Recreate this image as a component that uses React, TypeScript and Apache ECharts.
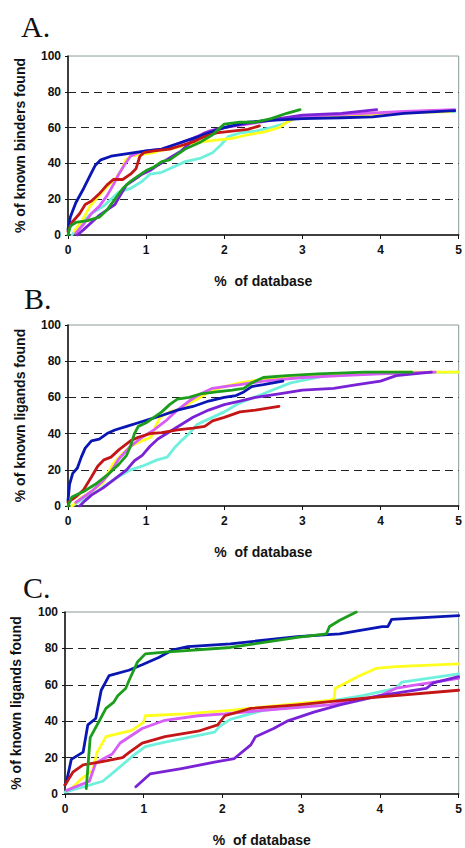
import React, { useEffect, useRef } from "react";
import * as echarts from "echarts";

const xTicks = [0, 1, 2, 3, 4, 5];
const gridLevels = [20, 40, 60, 80];
const panelLetters = ["A.", "B.", "C."];
const yNames = ["% of known binders found", "% of known ligands found", "% of known ligands found"];
const xName = "%  of database";
const seriesNames = ["cyan", "yellow", "magenta", "purple", "blue", "red", "green"];
const colors: Record<string, string> = {
  cyan: "#6ff0dc",
  yellow: "#ffff1e",
  magenta: "#d85cf6",
  purple: "#7a22d6",
  blue: "#0a16b4",
  red: "#c41616",
  green: "#1c9e1c",
};

// Panel A
const aBlue = [[0,3],[0.03,10],[0.1,18],[0.2,26],[0.28,33],[0.35,39],[0.42,42],[0.55,44],[0.7,45],[0.85,46],[1.0,47],[1.2,48],[1.4,51],[1.6,54],[1.8,57],[2.0,60],[2.3,63],[2.6,64],[3.0,65],[3.5,65.5],[3.9,66],[4.3,68],[4.95,69.5]];
const aRed = [[0,2],[0.05,7],[0.15,12],[0.22,17],[0.3,19],[0.4,23],[0.5,28],[0.58,31],[0.7,31],[0.8,34],[0.87,37],[0.92,44],[0.97,46],[1.1,47],[1.3,48],[1.45,50],[1.6,52],[1.75,55],[1.9,57],[2.1,58],[2.3,59],[2.45,61]];
const aYellow = [[0.08,2],[0.18,8],[0.28,16],[0.38,21],[0.5,27],[0.6,31],[0.68,36],[0.74,42],[0.8,44],[0.95,45],[1.1,46],[1.15,47],[1.3,48],[1.5,50],[1.7,52],[1.9,53],[2.1,54],[2.3,56],[2.5,57.5],[2.7,60],[2.8,63],[2.9,65],[3.2,66],[3.6,67],[4.0,67.5],[4.5,68.5],[4.9,69]];
const aCyan = [[0.05,0],[0.12,4],[0.2,8],[0.3,12],[0.45,16],[0.55,20],[0.65,24],[0.8,26],[0.95,30],[1.05,34],[1.2,35],[1.35,38],[1.5,41],[1.7,43],[1.85,46],[1.95,50],[2.05,55],[2.2,57],[2.4,58],[2.6,60],[2.75,62],[2.9,65],[3.2,66],[3.6,67],[4.0,68],[4.5,69],[4.95,69]];
const aMagenta = [[0.1,1],[0.2,6],[0.3,12],[0.4,16],[0.5,22],[0.58,28],[0.65,34],[0.72,39],[0.8,44],[0.9,46],[1.0,47],[1.2,48],[1.4,51],[1.6,54],[1.8,58],[2.0,60],[2.3,62],[2.6,64],[2.9,66],[3.3,67],[3.8,68],[4.3,69],[4.95,70]];
const aPurple = [[0.12,0],[0.2,3],[0.3,7],[0.4,11],[0.5,14],[0.6,17],[0.68,23],[0.75,28],[0.85,31],[0.95,34],[1.05,36],[1.15,39],[1.3,43],[1.45,47],[1.6,53],[1.75,57],[1.9,59],[2.1,61],[2.4,63],[2.7,65],[3.0,67],[3.5,68],[3.95,70]];
const aGreen = [[0,0],[0.03,5],[0.1,7],[0.25,8],[0.4,10],[0.5,14],[0.6,20],[0.7,26],[0.8,30],[0.9,33],[1.0,36],[1.1,38],[1.2,41],[1.3,42],[1.4,45],[1.5,48],[1.6,50],[1.7,52],[1.85,56],[1.95,60],[2.0,62],[2.2,63],[2.4,63],[2.6,65],[2.8,68],[2.97,70]];

// Panel B
const bBlue = [[0,3],[0.02,12],[0.06,18],[0.12,21],[0.17,27],[0.22,32],[0.3,36],[0.4,37],[0.5,40],[0.6,42],[0.75,44],[0.9,46],[1.05,48],[1.2,50],[1.4,53],[1.6,55],[1.8,58],[2.0,60],[2.15,61],[2.25,63],[2.35,66],[2.5,67],[2.75,69]];
const bRed = [[0,2],[0.1,5],[0.2,9],[0.3,16],[0.38,22],[0.46,25.5],[0.55,27],[0.65,31],[0.8,36],[0.9,38],[1.05,40],[1.2,40.5],[1.4,42],[1.6,43],[1.75,44],[1.85,47],[2.0,49],[2.2,52],[2.4,53],[2.7,55]];
const bYellow = [[0.05,0],[0.15,4],[0.3,8],[0.45,13],[0.52,19],[0.59,24],[0.7,29],[0.8,33],[0.95,36],[1.06,38],[1.12,44],[1.18,49],[1.3,52],[1.48,54],[1.56,57],[1.65,59],[1.8,63],[2.0,66],[2.2,68],[2.5,70],[3.0,72],[3.5,73],[4.0,74],[5.0,74]];
const bMagenta = [[0.1,2],[0.3,8],[0.45,14],[0.55,19],[0.65,26],[0.8,33],[0.95,38],[1.1,42],[1.25,47],[1.4,53],[1.55,58],[1.7,62],[1.85,65],[2.0,66],[2.2,67],[2.5,69],[3.0,71],[3.5,72],[4.0,73],[4.7,74]];
const bPurple = [[0.15,0],[0.22,3],[0.3,6],[0.45,10],[0.6,15],[0.75,20],[0.85,25],[0.95,28],[1.05,33],[1.15,37],[1.3,41],[1.45,45],[1.6,49],[1.8,53],[2.0,56],[2.2,58],[2.4,60],[2.7,62],[3.0,64],[3.4,65],[3.7,67],[4.0,69],[4.2,72],[4.65,74]];
const bCyan = [[0.05,0],[0.2,4],[0.4,9],[0.6,15],[0.8,20],[0.95,22],[1.14,25.5],[1.27,27],[1.36,32],[1.45,36],[1.55,40],[1.65,45],[1.8,48],[2.0,52],[2.2,57],[2.5,62],[2.85,68],[3.3,72],[4.0,73.5],[5.0,74]];
const bGreen = [[0,0],[0.05,5],[0.2,8],[0.35,12],[0.5,17],[0.65,23],[0.75,28],[0.8,33],[0.85,40],[0.9,44],[1.0,46],[1.1,49],[1.2,52],[1.3,56],[1.4,59],[1.55,60],[1.7,62],[1.9,63],[2.1,64],[2.25,65],[2.35,68],[2.5,71],[2.8,72],[3.2,73],[3.8,74],[4.4,74]];

// Panel C
const cBlue = [[0,5],[0.02,7],[0.08,19],[0.23,23],[0.29,38],[0.39,41.5],[0.46,57],[0.56,65],[0.81,68],[0.98,71],[1.19,75],[1.36,79],[1.56,81],[2.1,82.5],[2.95,86.5],[3.49,88],[4.03,92],[4.1,92],[4.15,96],[5,98]];
const cGreen = [[0.27,3],[0.3,20],[0.32,31],[0.44,40.5],[0.52,47],[0.62,50.5],[0.67,54],[0.77,58],[0.83,64],[0.92,72.5],[1.02,77],[1.27,78],[2.1,80.5],[2.95,86],[3.32,88],[3.36,92],[3.49,95.5],[3.7,100]];
const cYellow = [[0.08,3],[0.2,8],[0.35,13],[0.41,23],[0.52,31.5],[0.85,35],[1.0,39.5],[1.02,43],[1.52,44],[2.1,46],[3.36,51.5],[3.42,52.5],[3.43,58],[3.74,65],[3.95,69],[4.2,70],[5,71.5]];
const cMagenta = [[0.02,2],[0.31,7],[0.39,17],[0.6,22],[0.7,28],[0.98,36],[1.27,40.5],[1.69,43],[2.03,44],[2.52,46],[3.36,49],[4.0,54],[4.2,58],[4.4,59.5],[5,63.5]];
const cCyan = [[0,1],[0.48,7],[0.62,12],[0.85,20.5],[1.02,26],[1.27,28.5],[1.9,34],[1.96,37],[2.1,41],[2.52,46],[2.95,48],[3.78,54],[4.2,58],[4.28,61.5],[5,66]];
const cRed = [[0,5],[0.1,12],[0.23,16],[0.44,17.5],[0.73,20],[0.82,23],[0.98,28],[1.27,31.5],[1.69,34.5],[1.94,38],[2.03,43],[2.36,47],[2.95,49],[3.78,52.5],[5,57]];
const cPurple = [[0.9,4],[1.08,11],[1.48,14],[1.9,17.5],[2.15,19.5],[2.36,27],[2.42,31.5],[2.65,36],[2.82,40],[3.16,45],[3.49,49],[4.0,54],[4.59,58],[4.68,61],[5,64.5]];

const panels: Record<string, number[][]>[] = [
  { cyan: aCyan, yellow: aYellow, magenta: aMagenta, purple: aPurple, blue: aBlue, red: aRed, green: aGreen },
  { cyan: bCyan, yellow: bYellow, magenta: bMagenta, purple: bPurple, blue: bBlue, red: bRed, green: bGreen },
  { cyan: cCyan, yellow: cYellow, magenta: cMagenta, purple: cPurple, blue: cBlue, red: cRed, green: cGreen },
];

export default function App() {
  const ref = useRef<HTMLDivElement>(null);
  useEffect(() => {
    if (!ref.current) return;
    const chart = echarts.init(ref.current, undefined, { renderer: "svg" });
    const grids = [
      { left: 68, top: 56, width: 391, height: 179 },
      { left: 68, top: 325, width: 391, height: 181 },
      { left: 65, top: 612, width: 395, height: 182 },
    ];
    const letterPos = [
      { x: 21, y: 11 },
      { x: 24, y: 283 },
      { x: 23, y: 572 },
    ];
    const sans = "'Liberation Sans', Arial, sans-serif";
    const series: any[] = [];
    panels.forEach((p, i) => {
      seriesNames.forEach((n, k) => {
        series.push({
          type: "line",
          name: n,
          xAxisIndex: i,
          yAxisIndex: i,
          data: p[n],
          showSymbol: false,
          symbol: "none",
          lineStyle: { color: colors[n], width: 2.8, cap: "round", join: "round" },
          z: 3 + k,
          markLine:
            k === 0
              ? {
                  silent: true,
                  symbol: "none",
                  label: { show: false },
                  lineStyle: { color: "#222", type: [8, 5], width: 1.2 },
                  data: gridLevels.map((v) => ({ yAxis: v })),
                  z: 1,
                }
              : undefined,
        });
      });
    });
    chart.setOption({
      animation: false,
      backgroundColor: "#fff",
      grid: grids.map((g) => ({ ...g, show: true, borderColor: "#8a9a9a", borderWidth: 1, backgroundColor: "transparent" })),
      xAxis: grids.map((_, i) => ({
        type: "value",
        gridIndex: i,
        min: xTicks[0],
        max: xTicks[xTicks.length - 1],
        interval: 1,
        name: xName,
        nameLocation: "middle",
        nameGap: 39,
        nameTextStyle: { fontFamily: sans, fontWeight: "bold", fontSize: 14, color: "#111" },
        axisLine: { show: true, lineStyle: { color: "#111", width: 1.5 } },
        axisTick: { show: true, length: 4, lineStyle: { color: "#111" } },
        axisLabel: { fontFamily: sans, fontWeight: "bold", fontSize: 12, color: "#111", margin: 9 },
        splitLine: { show: false },
      })),
      yAxis: grids.map((_, i) => ({
        type: "value",
        gridIndex: i,
        min: 0,
        max: 100,
        interval: 20,
        name: yNames[i],
        nameLocation: "middle",
        nameGap: i === 2 ? 42 : 41,
        nameTextStyle: { fontFamily: sans, fontWeight: "bold", fontSize: 14, color: "#111" },
        axisLine: { show: true, lineStyle: { color: "#111", width: 1.5 } },
        axisTick: { show: true, length: 3, lineStyle: { color: "#111" } },
        axisLabel: { fontFamily: sans, fontWeight: "bold", fontSize: 12, color: "#111", margin: 7 },
        splitLine: { show: false },
      })),
      graphic: panelLetters.map((t, i) => ({
        type: "text",
        left: letterPos[i].x,
        top: letterPos[i].y,
        style: { text: t, font: "30px 'Liberation Serif', 'Times New Roman', serif", fill: "#111" },
      })),
      series,
    });
    return () => chart.dispose();
  }, []);
  return <div ref={ref} style={{ position: "absolute", left: 0, top: 0, width: 465, height: 848 }} />;
}
